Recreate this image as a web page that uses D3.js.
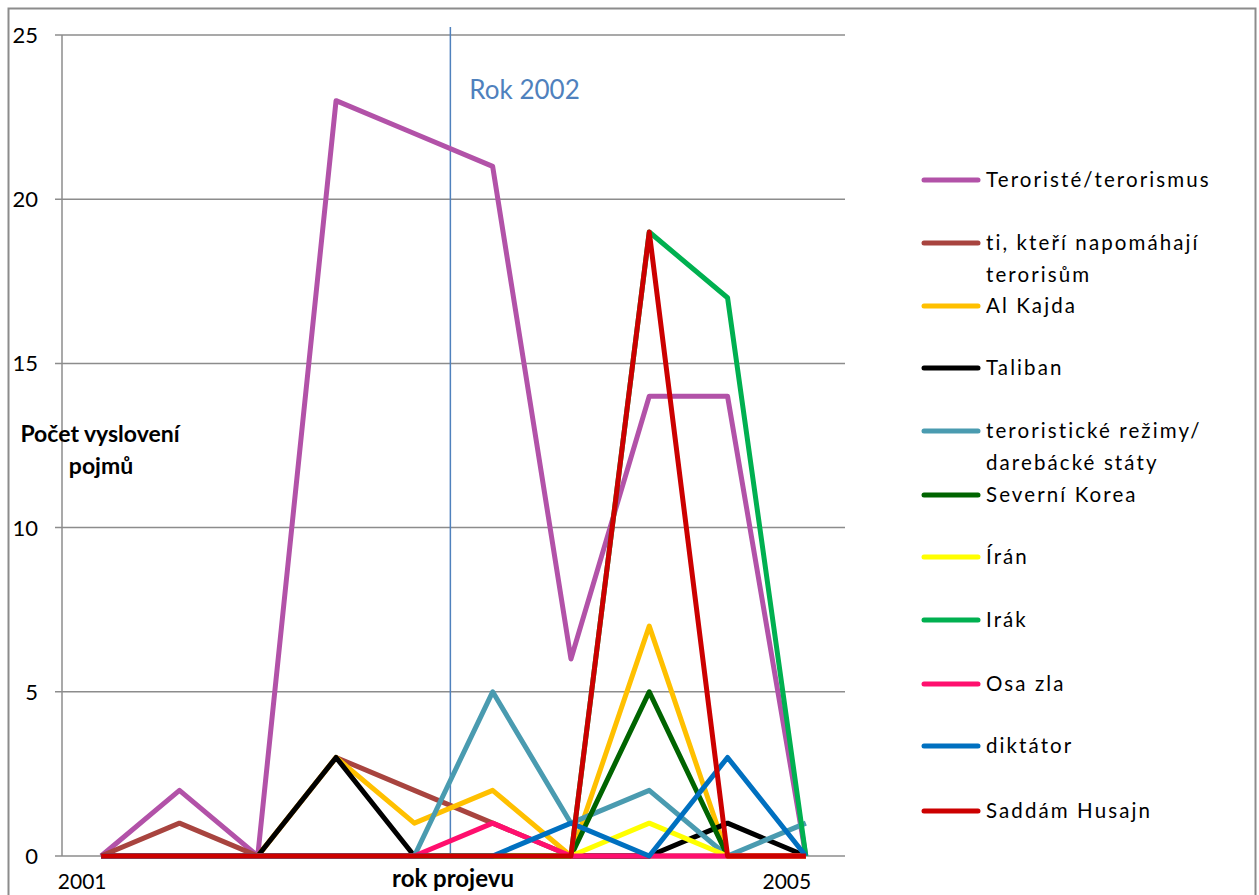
<!DOCTYPE html>
<html>
<head>
<meta charset="utf-8">
<script src="https://cdn.jsdelivr.net/npm/d3@7"></script>
<style>
  body { margin: 0; background: #fff; }
  svg { display: block; font-family: Lato, "Open Sans", sans-serif; }
</style>
</head>
<body>
<svg id="mysvg" width="1259" height="895"></svg>
<script>
// speeches in order, only first and last year are labelled
var cats = ["2001", "", "", "", "", "", "", "", "", "2005"];
var yTicks = [0, 5, 10, 15, 20, 25];

var names = ["Teroristé/terorismus", "ti, kteří napomáhají|terorisům", "Al Kajda", "Taliban",
	"teroristické režimy/|darebácké státy", "Severní Korea", "Írán", "Irák", "Osa zla", "diktátor", "Saddám Husajn"];
var colors = ["#B252A8", "#A8443F", "#FFC000", "#000000", "#4A9BB0", "#006400",
	"#FFFF00", "#00B050", "#FF0F6E", "#0070C0", "#CC0000"];

var teroriste  = [0, 2, 0, 23, 22, 21, 6, 14, 14, 0];
var napomahaji = [0, 1, 0, 3, 2, 1, 0, 0, 0, 0];
var alKajda    = [0, 0, 0, 3, 1, 2, 0, 7, 0, 0];
var taliban    = [0, 0, 0, 3, 0, 0, 0, 0, 1, 0];
var rezimy     = [0, 0, 0, 0, 0, 5, 1, 2, 0, 1];
var korea      = [0, 0, 0, 0, 0, 0, 0, 5, 0, 0];
var iran       = [0, 0, 0, 0, 0, 0, 0, 1, 0, 0];
var irak       = [0, 0, 0, 0, 0, 0, 0, 19, 17, 0];
var osaZla     = [0, 0, 0, 0, 0, 1, 0, 0, 0, 0];
var diktator   = [0, 0, 0, 0, 0, 0, 1, 0, 3, 0];
var saddam     = [0, 0, 0, 0, 0, 0, 0, 19, 0, 0];

var series = [teroriste, napomahaji, alKajda, taliban, rezimy, korea, iran, irak, osaZla, diktator, saddam];

// the "Rok 2002" marker sits between speech 5 and 6
var marker2002 = 4.46;

var svg = d3.select("#mysvg");

svg.append("rect")
	.attr("x", 8.5).attr("y", 8.5)
	.attr("width", 1247).attr("height", 900)
	.attr("fill", "none")
	.attr("stroke", "#8c8c8c")
	.attr("stroke-width", 2);

var x = d3.scalePoint()
	.domain(d3.range(cats.length))
	.range([62, 845])
	.padding(0.5);

var y = d3.scaleLinear()
	.domain([0, 25])
	.range([856, 35]);

// grid
svg.append("g").selectAll("line")
	.data(yTicks)
	.enter().append("line")
	.attr("x1", 55).attr("x2", 845)
	.attr("y1", function (d) { return y(d); })
	.attr("y2", function (d) { return y(d); })
	.attr("stroke", "#8c8c8c")
	.attr("stroke-width", 1.5);

svg.append("line")
	.attr("x1", 62).attr("x2", 62)
	.attr("y1", y(25)).attr("y2", y(0))
	.attr("stroke", "#8c8c8c")
	.attr("stroke-width", 1.5);

svg.append("g").selectAll("text")
	.data(yTicks)
	.enter().append("text")
	.attr("x", 38)
	.attr("y", function (d) { return y(d) + 8; })
	.attr("text-anchor", "end")
	.attr("font-size", 22)
	.attr("fill", "#000")
	.text(function (d) { return d; });

svg.append("g").selectAll("text")
	.data(cats)
	.enter().append("text")
	.attr("x", function (d, i) { return x(i) - 19; })
	.attr("y", 889)
	.attr("text-anchor", "middle")
	.attr("font-size", 21)
	.attr("fill", "#000")
	.text(function (d) { return d; });

// axis titles
var ytitle = svg.append("text")
	.attr("font-size", 23)
	.attr("font-weight", "bold")
	.attr("text-anchor", "middle")
	.attr("fill", "#000");
ytitle.append("tspan").attr("x", 100).attr("y", 442).text("Počet vyslovení");
ytitle.append("tspan").attr("x", 101).attr("y", 474).text("pojmů");

svg.append("text")
	.attr("x", 453).attr("y", 887)
	.attr("text-anchor", "middle")
	.attr("font-size", 24)
	.attr("font-weight", "bold")
	.attr("fill", "#000")
	.text("rok projevu");

// Rok 2002 marker
var mx = x(0) + marker2002 * x.step();
svg.append("line")
	.attr("x1", mx).attr("x2", mx)
	.attr("y1", 27).attr("y2", y(0))
	.attr("stroke", "#4F81BD")
	.attr("stroke-width", 1.5);

svg.append("text")
	.attr("x", mx + 19).attr("y", 99)
	.attr("font-size", 26)
	.attr("fill", "#4F81BD")
	.text("Rok 2002");

// lines
var line = d3.line()
	.x(function (d, i) { return x(i); })
	.y(function (d) { return y(d); });

svg.append("g").selectAll("path")
	.data(series)
	.enter().append("path")
	.attr("d", line)
	.attr("fill", "none")
	.attr("stroke", function (d, i) { return colors[i]; })
	.attr("stroke-width", 5)
	.attr("stroke-linejoin", "round");

// legend
var legendY = [180, 243, 306, 368, 431, 495, 557, 620, 684, 746, 811];
var legend = svg.append("g");
names.forEach(function (n, i) {
	legend.append("line")
		.attr("x1", 924).attr("x2", 978)
		.attr("y1", legendY[i]).attr("y2", legendY[i])
		.attr("stroke", colors[i])
		.attr("stroke-width", 5)
		.attr("stroke-linecap", "round");
	var t = legend.append("text")
		.attr("font-size", 20.5)
		.attr("letter-spacing", 2.1)
		.attr("fill", "#000");
	n.split("|").forEach(function (part, k) {
		t.append("tspan")
			.attr("x", 986)
			.attr("y", legendY[i] + 7 + k * 32)
			.text(part);
	});
});
</script>
</body>
</html>
